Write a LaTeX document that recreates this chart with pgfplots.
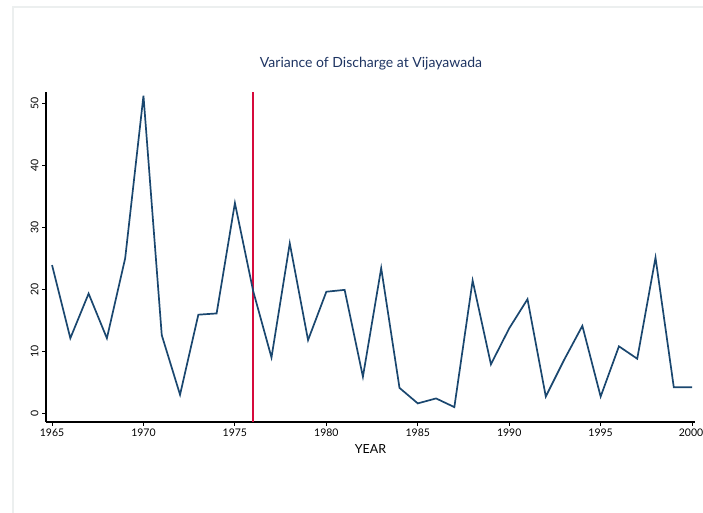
\documentclass[border=0pt]{standalone}
\usepackage{pgfplots}
\pgfplotsset{compat=1.18}
\usepackage{fontspec}
\setmainfont{Lato}
\definecolor{navy}{RGB}{26,71,111}
\definecolor{titlenavy}{RGB}{30,52,98}
\definecolor{cranberry}{RGB}{214,10,60}
\definecolor{framegray}{RGB}{236,239,239}

\pgfplotstableread{
year var
1965 24.0
1966 12.2
1967 19.4
1968 12.2
1969 25.1
1970 51.3
1971 12.7
1972 3.1
1973 16.0
1974 16.2
1975 34.0
1976 19.8
1977 9.1
1978 27.5
1979 11.9
1980 19.7
1981 20.0
1982 6.0
1983 23.5
1984 4.2
1985 1.7
1986 2.5
1987 1.1
1988 21.5
1989 8.0
1990 13.8
1991 18.5
1992 2.8
1993 8.7
1994 14.2
1995 2.8
1996 10.9
1997 8.9
1998 25.2
1999 4.3
2000 4.3
}\vardata

\begin{document}
\begin{tikzpicture}[x=1pt,y=1pt]
\useasboundingbox (0,0) rectangle (703,513);
% faint outer frame
\draw[framegray, line width=1.2pt] (13,0) -- (13,506) -- (703,506);
\node[text=titlenavy, font=\fontsize{14}{16}\selectfont] at (371,449) {Variance of Discharge at Vijayawada};
\begin{axis}[
  at={(46pt,91pt)}, anchor=south west,
  scale only axis, width=649pt, height=330pt,
  xmin=1964.67, xmax=2000.16, ymin=-1.3, ymax=51.9,
  axis x line*=bottom, axis y line*=left,
  axis line style={line width=1.5pt, black},
  xtick={1965,1970,...,2000}, ytick={0,10,...,50},
  xticklabels={1965,1970,1975,1980,1985,1990,1995,\hspace*{-2pt}2000},
  x tick label style={yshift=1pt},
  tick style={black, line width=1pt},
  major tick length=4pt,
  tick align=outside,
  /pgf/number format/assume math mode=true,
  tick label style={font=\fontsize{10.5}{12}\selectfont},
  y tick label style={rotate=90, anchor=south, xshift=0pt},
  xlabel={YEAR},
  xlabel style={font=\fontsize{12.5}{14}\selectfont, yshift=-1pt},
  clip=false,
]
\addplot[cranberry, line width=1.5pt] coordinates {(1976,-1.3) (1976,51.9)};
\addplot[navy, line width=1.7pt, mark=none] table[x=year, y=var] {\vardata};
\end{axis}
\end{tikzpicture}
\end{document}
